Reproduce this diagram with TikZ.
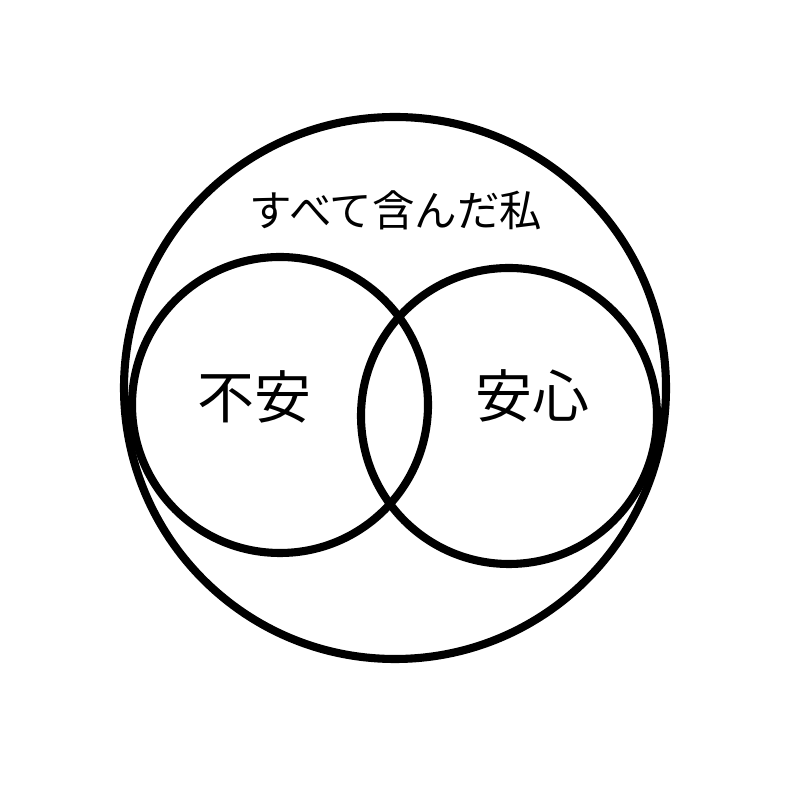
\documentclass[tikz,border=0pt]{standalone}
\usepackage{fontspec}
\newfontfamily\jpfont{Noto Sans CJK JP}
\begin{document}
\begin{tikzpicture}[line width=2.3pt, line join=round, line cap=round]
	\useasboundingbox (0,0) rectangle (8,8);
	\path 
	(3.95,4.12) coordinate (W)
	(2.80,3.95) coordinate (F)
	(5.09,3.84) coordinate (A);
	\draw (W) circle (2.71);
	\draw (F) circle (1.48);
	\draw (A) circle (1.48);
	\node (w) at (3.96,5.90) {\jpfont\fontsize{12.1pt}{13pt}\selectfont すべて含んだ私};
	\node (f) at (2.54,4.03) {\jpfont\fontsize{16.2pt}{17pt}\selectfont 不安};
	\node (a) at (5.32,4.04) {\jpfont\fontsize{16.2pt}{17pt}\selectfont 安心};
\end{tikzpicture}
\end{document}
